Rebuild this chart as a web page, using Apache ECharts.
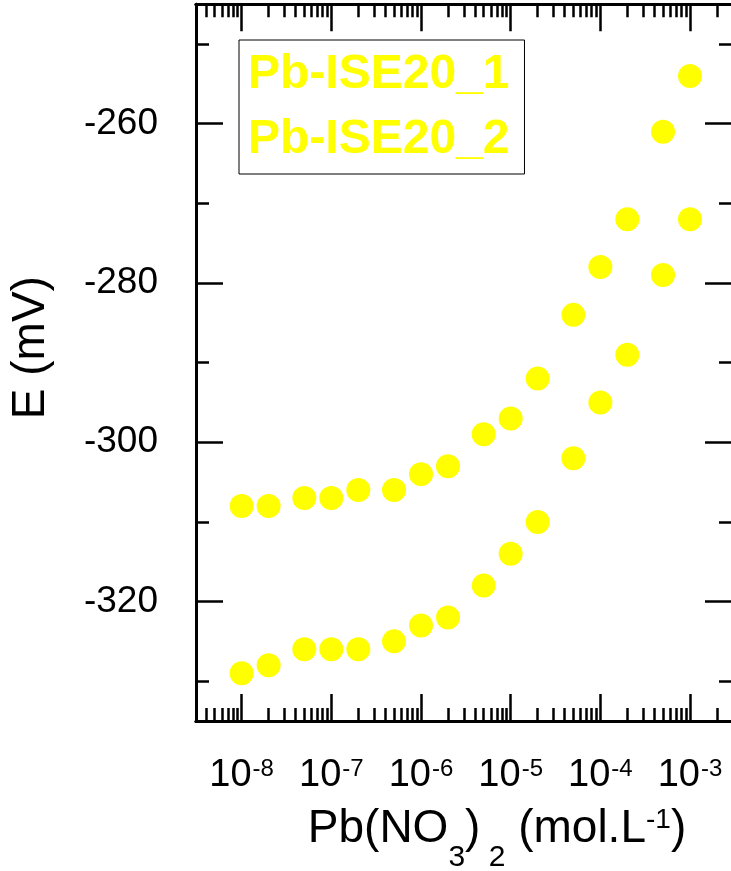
<!DOCTYPE html>
<html>
<head>
<meta charset="utf-8">
<script src="https://cdn.jsdelivr.net/npm/echarts@6/dist/echarts.min.js"></script>
<style>
  html, body { margin: 0; padding: 0; background: #fff; }
  #chart { width: 731px; height: 871px; }
</style>
</head>
<body>
<div id="chart"></div>
<script>
// concentration of Pb(NO3)2, mol/L
const concentrations = [1e-8, 2e-8, 5e-8, 1e-7, 2e-7, 5e-7, 1e-6, 2e-6, 5e-6, 1e-5, 2e-5, 5e-5, 1e-4, 2e-4, 5e-4, 1e-3];
// potential, mV
const ise1 = [-308, -308, -307, -307, -306, -306, -304, -303, -299, -297, -292, -284, -278, -272, -261, -254];
const ise2 = [-329, -328, -326, -326, -326, -325, -323, -322, -318, -314, -310, -302, -295, -289, -279, -272];
const seriesNames = ["Pb-ISE20_1", "Pb-ISE20_2"];

// axis ticks (x in log10 units)
const decades = [-8, -7, -6, -5, -4, -3];
const mantissas = [2, 3, 4, 5, 6, 7, 8, 9];
const yMajor = [-320, -300, -280, -260];
const yMinor = [-330, -310, -290, -270, -250];

const X_MIN = -8.509, X_MAX = -2.532;
const Y_MIN = -335, Y_MAX = -245;

let xMinor = [];
for (let d = -9; d <= -3; d++) {
    mantissas.forEach((m) => {
        let v = Math.log10(m) + d;
        if (v > X_MIN && v < X_MAX) xMinor.push(v);
    });
}

const FONT = "Liberation Sans";
const black = "#000";

const xAx = (pos, ticks, len, extra) => Object.assign({
    type: "value",
    position: pos,
    min: X_MIN,
    max: X_MAX,
    axisLine: { show: true, onZero: false, lineStyle: { color: black, width: 3 } },
    axisTick: { show: true, inside: true, length: len, customValues: ticks, lineStyle: { color: black, width: 2.5 } },
    axisLabel: { show: false },
    splitLine: { show: false },
}, extra || {});

const yAx = (pos, ticks, len, extra) => Object.assign({
    type: "value",
    position: pos,
    min: Y_MIN,
    max: Y_MAX,
    axisLine: { show: true, onZero: false, lineStyle: { color: black, width: 3 } },
    axisTick: { show: true, inside: true, length: len, customValues: ticks, lineStyle: { color: black, width: 2.5 } },
    axisLabel: { show: false },
    splitLine: { show: false },
}, extra || {});

const toPoints = (vals) => vals.map((v, i) => [Math.log10(concentrations[i]), v]);

let chart = echarts.init(document.getElementById("chart"), null, { renderer: "canvas" });

let option = {
    animation: false,
    backgroundColor: "#fff",
    grid: { left: 196, right: -1, top: 4.3, bottom: 150, containLabel: false, outerBoundsMode: "none" },
    legend: {
        data: seriesNames,
        orient: "vertical",
        left: 239,
        top: 40,
        icon: "none",
        itemWidth: 0,
        itemHeight: 0,
        itemGap: 9,
        padding: [7, 15, 6, 4],
        borderColor: black,
        borderWidth: 1,
        selectedMode: false,
        textStyle: { color: "#ffff00", fontSize: 48, fontWeight: "bold", fontFamily: FONT, lineHeight: 56 },
    },
    xAxis: [
        xAx("bottom", decades, 27, {
            axisLabel: {
                show: true,
                customValues: decades,
                margin: 36,
                formatter: (v) => "{m|10}{p|" + Math.round(v) + "}",
                rich: {
                    m: { fontSize: 38, lineHeight: 46, verticalAlign: "top", fontFamily: FONT, color: black },
                    p: { fontSize: 24, lineHeight: 24, verticalAlign: "top", fontFamily: FONT, color: black, padding: [0, 0, 0, 1] },
                },
            },
            name: "{m|Pb(NO}{s|3}{m|)}{s| 2}{m| (mol.L}{p|-1}{m|)}",
            nameLocation: "middle",
            nameGap: 85,
            nameTextStyle: {
                padding: [0, 0, 0, 66],
                rich: {
                    m: { fontSize: 46, lineHeight: 60, verticalAlign: "top", fontFamily: FONT, color: black },
                    s: { fontSize: 30, lineHeight: 30, verticalAlign: "top", fontFamily: FONT, color: black, padding: [37, 0, 0, 0] },
                    p: { fontSize: 28, lineHeight: 28, verticalAlign: "top", fontFamily: FONT, color: black, padding: [0, 0, 0, 0] },
                },
            },
        }),
        xAx("bottom", xMinor, 13),
        xAx("top", decades, 27),
        xAx("top", xMinor, 13),
    ],
    yAxis: [
        yAx("left", yMajor, 27, {
            axisLabel: {
                show: true,
                customValues: yMajor,
                margin: 38,
                fontSize: 37,
                fontFamily: FONT,
                color: black,
            },
            name: "E (mV)",
            nameLocation: "middle",
            nameGap: 142,
            nameTextStyle: { fontSize: 46, lineHeight: 46, fontFamily: FONT, color: black, padding: [0, 0, 0, 30] },
        }),
        yAx("left", yMinor, 13),
        yAx("right", yMajor, 27),
        yAx("right", yMinor, 13),
    ],
    series: [
        {
            name: seriesNames[0],
            type: "scatter",
            xAxisIndex: 0,
            yAxisIndex: 0,
            symbol: "circle",
            symbolSize: 24,
            itemStyle: { color: "#ffff00", opacity: 1 },
            data: toPoints(ise1),
        },
        {
            name: seriesNames[1],
            type: "scatter",
            xAxisIndex: 0,
            yAxisIndex: 0,
            symbol: "circle",
            symbolSize: 24,
            itemStyle: { color: "#ffff00", opacity: 1 },
            data: toPoints(ise2),
        },
    ],
};
chart.setOption(option);
</script>
</body>
</html>
